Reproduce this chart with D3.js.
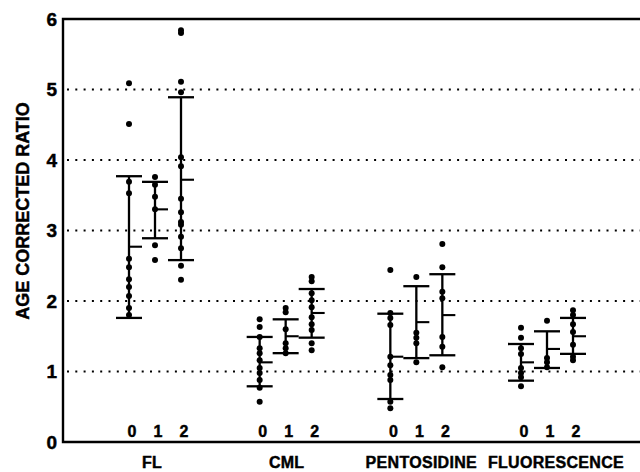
<!DOCTYPE html>
<html><head><meta charset="utf-8">
<script src="https://cdn.jsdelivr.net/npm/d3@7/dist/d3.min.js"></script>
<style>
html,body{margin:0;padding:0;background:#fff;}
text{font-family:"Liberation Sans",Arial,Helvetica,sans-serif;font-weight:bold;fill:#000;stroke:#000;stroke-width:0.45px;}
</style></head>
<body><svg id="c" width="640" height="472"></svg>
<script>
const groups = ["FL", "CML", "PENTOSIDINE", "FLUORESCENCE"];
const doses = ["0", "1", "2"];
const yTicks = [0, 1, 2, 3, 4, 5, 6];
const gridValues = [1, 2, 3, 4, 5];

// upper / lower bar ends and mean per group, per dose
const highs = [[3.77, 3.69, 4.89], [1.49, 1.74, 2.17], [1.82, 2.21, 2.38], [1.39, 1.57, 1.76]];
const lows  = [[1.76, 2.89, 2.58], [0.79, 1.26, 1.48], [0.61, 1.19, 1.23], [0.87, 1.05, 1.25]];
const means = [[2.77, 3.30, 3.72], [1.13, 1.50, 1.83], [1.21, 1.70, 1.80], [1.13, 1.32, 1.50]];

// individual points
const flPoints = [
  [5.09, 4.51, 3.69, 3.53, 2.60, 2.48, 2.31, 2.20, 2.07, 1.90, 1.80],
  [3.76, 3.65, 3.48, 3.30, 2.79, 2.58],
  [5.84, 5.80, 5.11, 4.96, 4.04, 3.91, 3.45, 3.26, 3.12, 3.08, 2.91, 2.75, 2.50, 2.30]
];
const cmlPoints = [
  [1.74, 1.63, 1.49, 1.33, 1.26, 1.16, 1.05, 0.98, 0.88, 0.77, 0.57],
  [1.90, 1.84, 1.60, 1.40, 1.33, 1.26],
  [2.34, 2.28, 2.11, 2.01, 1.91, 1.77, 1.67, 1.59, 1.40, 1.30]
];
const pentosidinePoints = [
  [2.44, 1.83, 1.76, 1.66, 1.21, 1.09, 0.95, 0.88, 0.57, 0.48],
  [2.34, 1.55, 1.48, 1.40, 1.13],
  [2.81, 2.48, 2.13, 2.04, 1.49, 1.35, 1.06]
];
const fluorescencePoints = [
  [1.62, 1.48, 1.33, 1.25, 1.05, 0.98, 0.92, 0.79],
  [1.72, 1.19, 1.13, 1.06],
  [1.87, 1.80, 1.67, 1.56, 1.38, 1.21, 1.16]
];
const allPoints = [flPoints, cmlPoints, pentosidinePoints, fluorescencePoints];

(function () {
const svg = d3.select("#c");
const mLeft = 63, mRight = 640, mTop = 19, mBottom = 442;
const y = d3.scaleLinear().domain([0, 6]).range([mBottom, mTop]);
const gx = d3.scalePoint().domain(groups).range([155, 547]);
const labelX = d3.scalePoint().domain(groups).range([152, 556]);
const dx = d3.scalePoint().domain(doses).range([-26, 26]);
const capHalf = 13, meanLen = 13;

// gridlines
svg.append("g").selectAll("line").data(gridValues).join("line")
  .attr("x1", mLeft + 4).attr("x2", mRight)
  .attr("y1", d => y(d)).attr("y2", d => y(d))
  .attr("stroke", "#000").attr("stroke-width", 1.9)
  .attr("stroke-dasharray", "2,6.3");

// frame: left axis, top line, bottom axis
svg.append("path")
  .attr("d", `M${mRight},${y(6)}H${mLeft}V${y(0)}H${mRight}`)
  .attr("fill", "none").attr("stroke", "#000").attr("stroke-width", 2.4);

// y tick labels
const yAxis = d3.axisLeft(y).tickValues(yTicks).tickSize(0).tickPadding(6).tickFormat(d3.format("d"));
const ya = svg.append("g").attr("transform", `translate(${mLeft},0)`).call(yAxis);
ya.select(".domain").remove();
ya.selectAll("text").style("font-size", "19px").style("font-family", "'Liberation Sans',Arial,sans-serif")
  .style("font-weight", "bold").attr("fill", "#000").attr("stroke", "#000").attr("stroke-width", 0.6);

// y title
svg.append("text").attr("transform", "translate(29,211) rotate(-90)")
  .attr("text-anchor", "middle").style("font-size", "18px").text("AGE CORRECTED RATIO");

// columns
groups.forEach((g, gi) => {
  doses.forEach((d, di) => {
    const cx = gx(g) + dx(d);
    const G = svg.append("g");
    G.append("line").attr("x1", cx).attr("x2", cx)
      .attr("y1", y(highs[gi][di])).attr("y2", y(lows[gi][di]))
      .attr("stroke", "#000").attr("stroke-width", 2.3);
    [highs[gi][di], lows[gi][di]].forEach(v => {
      G.append("line").attr("x1", cx - capHalf).attr("x2", cx + capHalf)
        .attr("y1", y(v)).attr("y2", y(v)).attr("stroke", "#000").attr("stroke-width", 2.3);
    });
    G.append("line").attr("x1", cx).attr("x2", cx + meanLen)
      .attr("y1", y(means[gi][di])).attr("y2", y(means[gi][di]))
      .attr("stroke", "#000").attr("stroke-width", 2.1);
    G.selectAll("circle").data(allPoints[gi][di]).join("circle")
      .attr("cx", cx).attr("cy", v => y(v)).attr("r", 3).attr("fill", "#000");
    svg.append("text").attr("x", cx + 3).attr("y", 437).attr("text-anchor", "middle")
      .style("font-size", "16px").text(d);
  });
  svg.append("text").attr("x", labelX(g)).attr("y", 468).attr("text-anchor", "middle")
    .style("font-size", "16px").style("letter-spacing", "0.3px").text(g);
});
})();
</script></body></html>
